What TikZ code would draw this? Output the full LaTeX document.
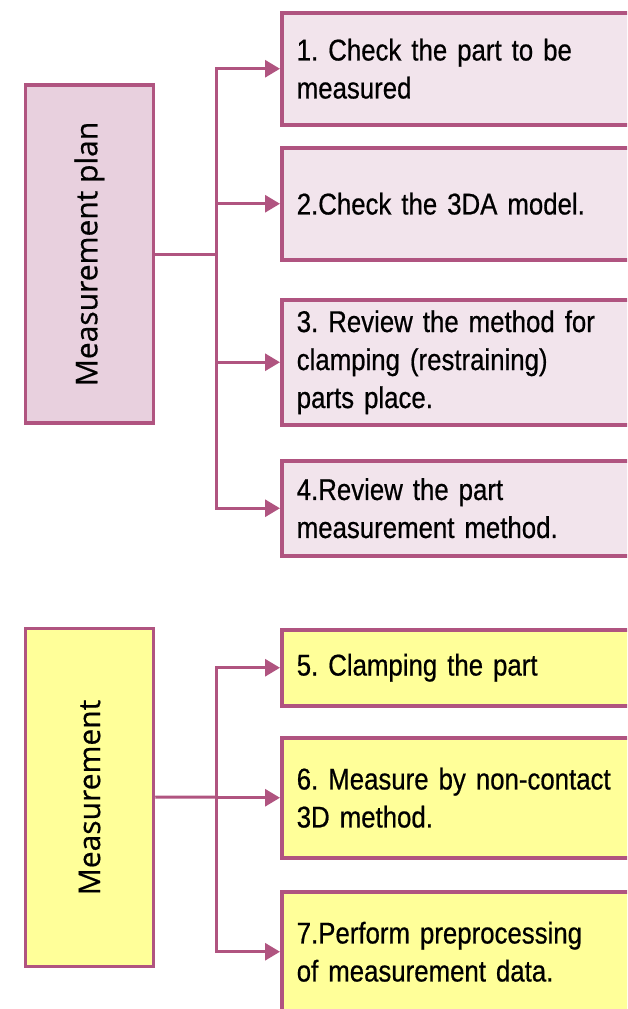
\documentclass[tikz,border=0pt]{standalone}
\usepackage{fontspec}
\setmainfont[FakeStretch=0.86,WordSpace=0.75,FakeBold=0.6]{Liberation Sans}
\newfontfamily\planfont[FakeBold=0.5]{Open Sans}
\usetikzlibrary{arrows.meta}
\definecolor{edgepink}{RGB}{176,84,128}
\definecolor{planfill}{RGB}{232,208,222}
\definecolor{stepfill}{RGB}{242,228,236}
\definecolor{measfill}{RGB}{255,255,153}
\frenchspacing
\tikzset{
  headbox/.style={draw=edgepink, line width=3.5pt, rotate=90, minimum width=338pt, minimum height=128pt, font=\planfont\fontsize{30}{36}\selectfont},
  taskbox/.style={draw=edgepink, line width=3.5pt, anchor=north west, minimum width=420pt, inner xsep=15pt, align=left, text width=390pt, font=\fontsize{30}{38}\selectfont},
  link/.style={edgepink, line width=3pt}
}
\begin{document}
\begin{tikzpicture}[x=1pt, y=-1pt, >={Triangle[length=15pt,width=17pt]}]
\useasboundingbox (0,0) rectangle (627,1009);
\clip (0,0) rectangle (627,1009);

\node[headbox, fill=planfill] (plan) at (89.5,254) {Measurement plan};
\node[taskbox, fill=stepfill, minimum height=112pt] (s1) at (280,11) {1. Check the part to be\\measured};
\node[taskbox, fill=stepfill, minimum height=112pt] (s2) at (280,146) {2.Check the 3DA model.};
\node[taskbox, fill=stepfill, minimum height=125pt] (s3) at (280,298) {3. Review the method for\\clamping (restraining)\\parts place.};
\node[taskbox, fill=stepfill, minimum height=95pt] (s4) at (280,459) {4.Review the part\\measurement method.};
\coordinate (j1) at (216,254);
\draw[link] (plan) -- (j1);
\foreach \s in {s1,s2,s3,s4}
    \draw[link,->] (j1) |- (\s);

\node[headbox, fill=measfill] (meas) at (89.5,797.5) {Measurement};
\node[taskbox, fill=measfill, minimum height=76pt] (s5) at (280,628) {5. Clamping the part};
\node[taskbox, fill=measfill, minimum height=120pt] (s6) at (280,736) {6. Measure by non-contact\\3D method.};
\node[taskbox, fill=measfill, minimum height=120pt] (s7) at (280,890) {7.Perform preprocessing\\of measurement data.};
\coordinate (j2) at (216,797);
\draw[link] (meas) -- (j2);
\foreach \s in {s5,s6,s7}
    \draw[link,->] (j2) |- (\s);
\end{tikzpicture}
\end{document}
